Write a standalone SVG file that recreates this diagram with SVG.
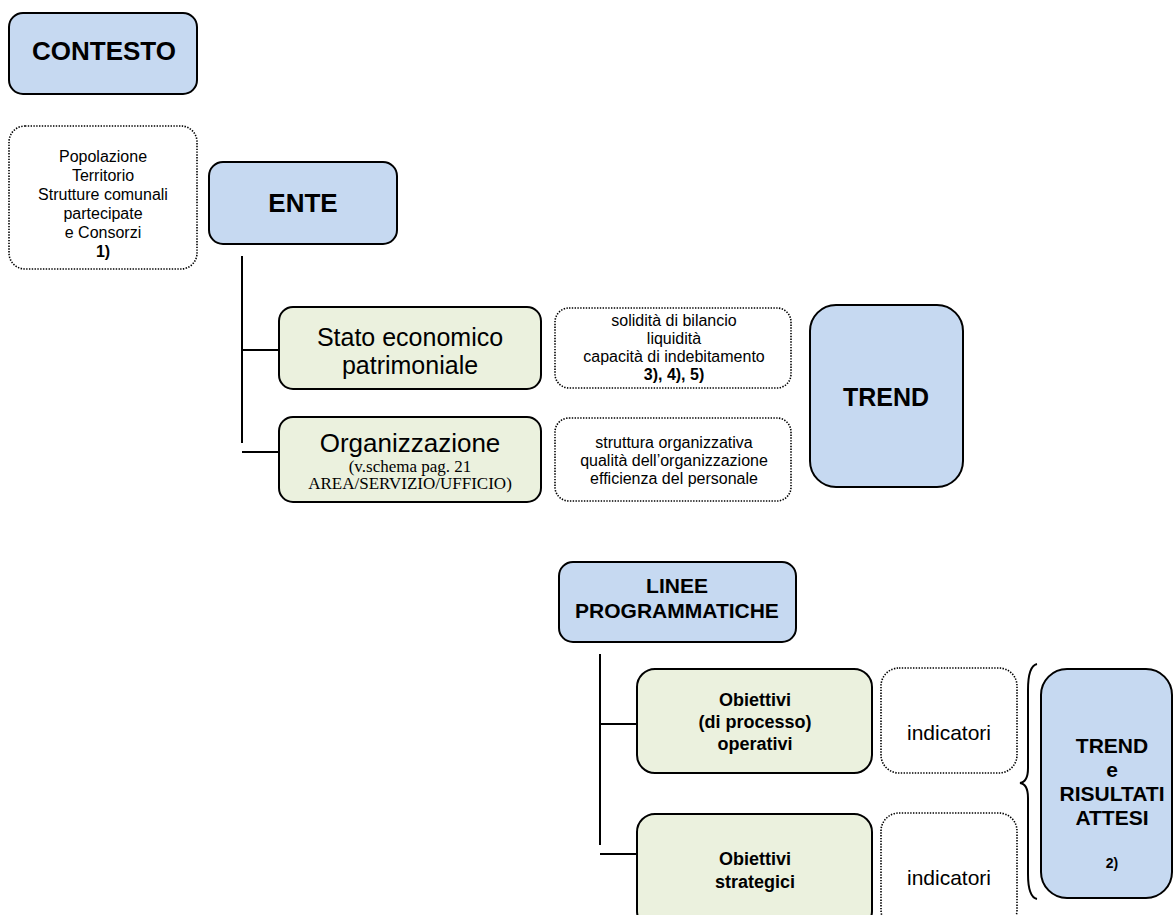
<svg xmlns="http://www.w3.org/2000/svg" width="1173" height="915" viewBox="0 0 1173 915">
<style>
.blue{fill:#C6D9F1;stroke:#000;stroke-width:2}
.green{fill:#EBF1DE;stroke:#000;stroke-width:2}
.dot{fill:#fff;stroke:#000;stroke-width:1.6;stroke-dasharray:1.4 1.4}
.con{stroke:#000;stroke-width:2;fill:none}
text{font-family:"Liberation Sans",Arial,sans-serif;fill:#000;text-anchor:middle}
.b{font-weight:bold}
.serif{font-family:"Liberation Serif","Times New Roman",serif}
</style>
<defs>
<clipPath id="clipOrg"><rect x="555" y="418" width="240" height="69"/></clipPath>
</defs>
<rect width="1173" height="915" fill="#fff"/>

<g id="connectors">
<line class="con" x1="242" y1="256" x2="242" y2="443"/>
<line class="con" x1="242" y1="350" x2="279" y2="350"/>
<line class="con" x1="242" y1="452" x2="279" y2="452"/>
<line class="con" x1="600" y1="654" x2="600" y2="845"/>
<line class="con" x1="600" y1="724" x2="637" y2="724"/>
<line class="con" x1="600" y1="854" x2="637" y2="854"/>
<path id="brace" class="con" stroke-width="1.5" d="M1037,664 Q1028,666 1028,690 L1028,768 Q1028,782 1020,783 Q1028,784 1028,798 L1028,874 Q1028,897 1037,899"/>
</g>

<g id="contesto">
<rect class="blue" x="9" y="13" width="188" height="81" rx="14"/>
<text class="b" x="104" y="60" font-size="26">CONTESTO</text>
</g>

<g id="popolazione">
<rect class="dot" x="9" y="126" width="188" height="143" rx="16"/>
<text x="103" y="162" font-size="16">Popolazione</text>
<text x="103" y="181" font-size="16">Territorio</text>
<text x="103" y="200" font-size="16">Strutture comunali</text>
<text x="103" y="219" font-size="16">partecipate</text>
<text x="103" y="238" font-size="16">e Consorzi</text>
<text class="b" x="103" y="257" font-size="16">1)</text>
</g>

<g id="ente">
<rect class="blue" x="209" y="162" width="188" height="82" rx="14"/>
<text class="b" x="303" y="212" font-size="26">ENTE</text>
</g>

<g id="stato">
<rect class="green" x="279" y="307" width="262" height="82" rx="14"/>
<text x="410" y="346" font-size="25">Stato economico</text>
<text x="410" y="374" font-size="25">patrimoniale</text>
</g>

<g id="organizzazione">
<rect class="green" x="279" y="417" width="262" height="85" rx="14"/>
<text x="410" y="452" font-size="26">Organizzazione</text>
<text class="serif" x="410" y="472" font-size="17">(v.schema pag. 21</text>
<text class="serif" x="410" y="489" font-size="17">AREA/SERVIZIO/UFFICIO)</text>
</g>

<g id="bilancio">
<rect class="dot" x="555" y="308" width="236" height="80" rx="14"/>
<text x="674" y="326" font-size="16">solidità di bilancio</text>
<text x="674" y="344" font-size="16">liquidità</text>
<text x="674" y="362" font-size="16">capacità di indebitamento</text>
<text class="b" x="674" y="380" font-size="16">3), 4), 5)</text>
</g>

<g id="struttura">
<rect class="dot" x="555" y="418" width="236" height="83" rx="14"/>
<g clip-path="url(#clipOrg)">
<text x="674" y="448" font-size="16">struttura organizzativa</text>
<text x="674" y="466" font-size="16">qualità dell’organizzazione</text>
<text x="674" y="484" font-size="16">efficienza del personale</text>
</g>
</g>

<g id="trend">
<rect class="blue" x="810" y="305" width="153" height="182" rx="26"/>
<text class="b" x="886" y="406" font-size="25">TREND</text>
</g>

<g id="linee">
<rect class="blue" x="559" y="562" width="237" height="80" rx="14"/>
<text class="b" x="677" y="593" font-size="21">LINEE</text>
<text class="b" x="677" y="618" font-size="21">PROGRAMMATICHE</text>
</g>

<g id="operativi">
<rect class="green" x="637" y="669" width="235" height="104" rx="18"/>
<text class="b" x="755" y="706" font-size="18">Obiettivi</text>
<text class="b" x="755" y="728" font-size="18">(di processo)</text>
<text class="b" x="755" y="750" font-size="18">operativi</text>
</g>

<g id="strategici">
<rect class="green" x="637" y="814" width="235" height="115" rx="18"/>
<text class="b" x="755" y="865" font-size="18">Obiettivi</text>
<text class="b" x="755" y="888" font-size="18">strategici</text>
</g>

<g id="indicatori1">
<rect class="dot" x="881" y="668" width="136" height="105" rx="18"/>
<text x="949" y="740" font-size="21">indicatori</text>
</g>

<g id="indicatori2">
<rect class="dot" x="881" y="813" width="136" height="115" rx="18"/>
<text x="949" y="885" font-size="21">indicatori</text>
</g>

<g id="risultati">
<rect class="blue" x="1041" y="669" width="131" height="229" rx="26"/>
<text class="b" x="1112" y="753" font-size="21">TREND</text>
<text class="b" x="1112" y="777" font-size="21">e</text>
<text class="b" x="1112" y="801" font-size="21">RISULTATI</text>
<text class="b" x="1112" y="825" font-size="21">ATTESI</text>
<text class="b" x="1112" y="868" font-size="14">2)</text>
</g>
</svg>
